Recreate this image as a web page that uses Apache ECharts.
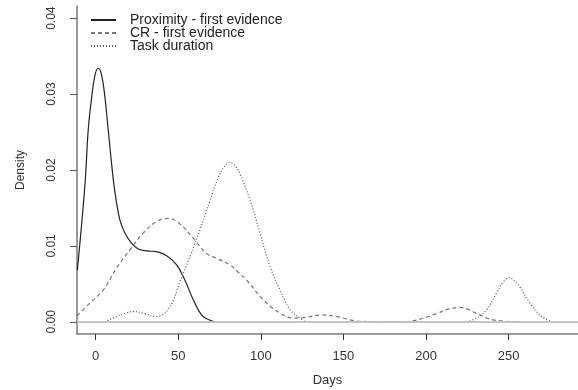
<!DOCTYPE html>
<html>
<head>
<meta charset="utf-8">
<script src="https://cdn.jsdelivr.net/npm/echarts@6/dist/echarts.min.js"></script>
<style>
  html, body { margin: 0; padding: 0; background: #fff; }
  #chart { width: 578px; height: 390px; }
</style>
</head>
<body>
<div id="chart"></div>
<script>
var seriesNames = ['Proximity - first evidence', 'CR - first evidence', 'Task duration'];

var proximityDays = [-11.1, -6.5, -4.5, -2.4, -0.4, 1.6, 3.6, 5.6, 7.6, 10.7, 12.7, 14.7, 17.7, 21.8, 25.8, 30.9, 36.9, 43, 49, 54, 59.1, 64.2, 69.2, 72.2];
var proximityDensity = [0.0068, 0.018, 0.0253, 0.0296, 0.0325, 0.0334, 0.0325, 0.0296, 0.0253, 0.0187, 0.0156, 0.0134, 0.0117, 0.01035, 0.0096, 0.00934, 0.00925, 0.0087, 0.0075, 0.0055, 0.0029, 0.0009, 0.0002, 0];

var crDays = [-11.3, -3.4, 4.6, 12.7, 20.8, 28.8, 36.9, 44, 51, 59.1, 67.2, 73, 81.3, 86, 91.4, 101.5, 111.6, 119.6, 127.7, 135.8, 145.9, 155.9, 166, 186, 196.3, 206.4, 214, 220.5, 226, 230.6, 240.7, 256.8];
var crDensity = [0.0008, 0.0025, 0.0042, 0.0071, 0.0095, 0.0117, 0.0132, 0.01364, 0.0129, 0.011, 0.009, 0.0084, 0.0075, 0.0066, 0.0055, 0.0029, 0.00114, 0.0005, 0.0006, 0.0009, 0.0007, 0.00017, 0.00004, 0, 0.00035, 0.0011, 0.0017, 0.0019, 0.0016, 0.0011, 0.00026, 0];

var taskDays = [5.6, 12.7, 17.5, 22.8, 28.8, 36.9, 41, 44, 47, 51, 57.1, 63.1, 69.2, 74.2, 78, 81.3, 84.5, 87.3, 93.4, 99.5, 105.5, 111.6, 117.6, 123.7, 126.7, 175, 224.6, 230.6, 236.7, 242.7, 246.5, 250.4, 253.5, 256.8, 262.8, 268.9, 276];
var taskDensity = [0, 0.0007, 0.0011, 0.00136, 0.00114, 0.0007, 0.001, 0.0017, 0.0028, 0.0053, 0.0086, 0.0121, 0.016, 0.019, 0.0205, 0.021, 0.0205, 0.0195, 0.0161, 0.0117, 0.0073, 0.0042, 0.0016, 0.0005, 0, null, 0, 0.0005, 0.0016, 0.0038, 0.0052, 0.0058, 0.0054, 0.0046, 0.0025, 0.0009, 0];

var xTicks = [0, 50, 100, 150, 200, 250];
var yTicks = [0, 0.01, 0.02, 0.03, 0.04];

function pairs(xs, ys) {
  return xs.map(function (x, i) { return [x, ys[i] === null ? '-' : ys[i]]; });
}

var font = 'Liberation Sans, Arial, sans-serif';
var axisColor = '#7a7a7a';

var option = {
  animation: false,
  textStyle: { fontFamily: font },
  legend: {
    orient: 'vertical',
    left: 90,
    top: 13,
    padding: 0,
    itemWidth: 25,
    itemHeight: 12,
    itemGap: -1,
    itemStyle: { opacity: 0 },
    textStyle: { fontFamily: font, fontSize: 14, lineHeight: 12, color: '#222', padding: [0, 0, 0, 9] },
    data: seriesNames
  },
  grid: { left: 77, right: 0, top: 6, bottom: 56, outerBoundsMode: 'none' },
  xAxis: [{
    type: 'value',
    min: -11.3,
    max: 292,
    name: 'Days',
    nameLocation: 'middle',
    nameGap: 40,
    nameTextStyle: { fontFamily: font, fontSize: 13, color: '#333' },
    axisLine: { show: true, onZero: false, lineStyle: { color: axisColor, width: 1.5 } },
    axisTick: { show: true, length: 6, customValues: xTicks, lineStyle: { color: '#333' } },
    axisLabel: { customValues: xTicks, margin: 16, fontSize: 13, color: '#333', fontFamily: font },
    splitLine: { show: false }
  }, {
    type: 'value',
    position: 'top',
    min: -11.3,
    max: 292,
    axisLine: { show: true, lineStyle: { color: axisColor, width: 1.5 } },
    axisTick: { show: false },
    axisLabel: { show: false },
    splitLine: { show: false }
  }],
  yAxis: {
    type: 'value',
    min: -0.0016,
    max: 0.0416,
    name: 'Density',
    nameLocation: 'middle',
    nameGap: 50,
    nameTextStyle: { fontFamily: font, fontSize: 12, color: '#333' },
    axisLine: { show: true, onZero: false, lineStyle: { color: axisColor, width: 1.5 } },
    axisTick: { show: true, length: 7, customValues: yTicks, lineStyle: { color: '#555' } },
    axisLabel: {
      customValues: yTicks,
      rotate: 90,
      margin: 19,
      fontSize: 12,
      color: '#333',
      fontFamily: font,
      formatter: function (v) { return v.toFixed(2); }
    },
    splitLine: { show: false }
  },
  series: [{
    name: seriesNames[0],
    type: 'line',
    smooth: 0.4,
    symbol: 'none',
    z: 3,
    lineStyle: { color: '#222', width: 1.2, type: 'solid' },
    itemStyle: { color: '#222' },
    data: pairs(proximityDays, proximityDensity),
    markLine: {
      silent: true,
      symbol: 'none',
      label: { show: false },
      lineStyle: { color: '#d4d4d4', type: 'solid', width: 1.5 },
      data: [{ yAxis: 0 }]
    }
  }, {
    name: seriesNames[1],
    type: 'line',
    smooth: 0.4,
    symbol: 'none',
    z: 4,
    lineStyle: { color: '#777', width: 1.2, type: [4, 3] },
    itemStyle: { color: '#777' },
    data: pairs(crDays, crDensity)
  }, {
    name: seriesNames[2],
    type: 'line',
    smooth: 0.4,
    symbol: 'none',
    z: 4,
    connectNulls: false,
    lineStyle: { color: '#555', width: 1.2, type: [1, 2] },
    itemStyle: { color: '#555' },
    data: pairs(taskDays, taskDensity)
  }]
};

var myChart = echarts.init(document.getElementById('chart'));
myChart.setOption(option);
</script>
</body>
</html>
